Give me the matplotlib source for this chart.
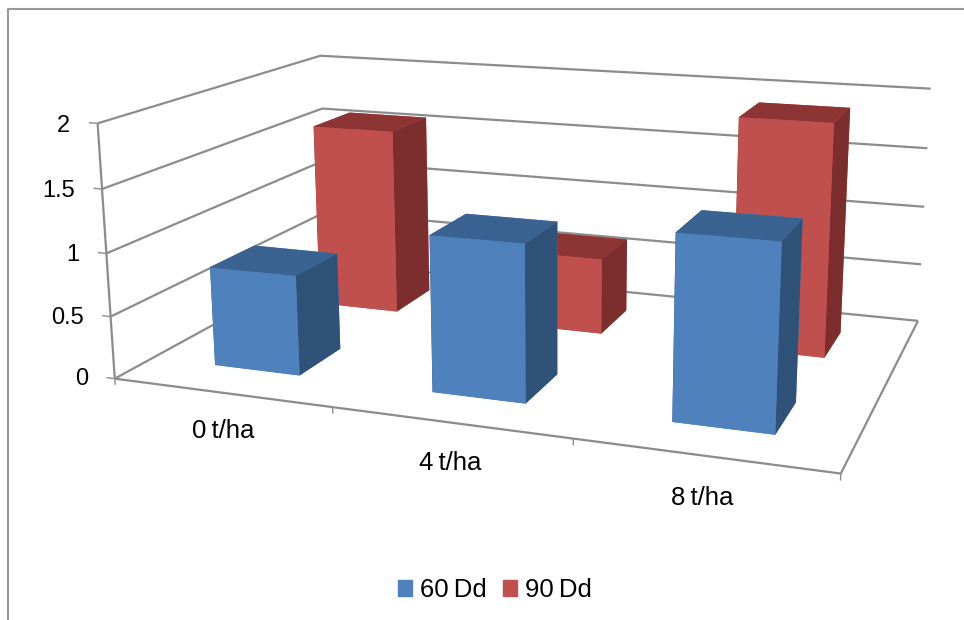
import matplotlib
matplotlib.use('Agg')
import matplotlib.pyplot as plt
from matplotlib.lines import Line2D
from matplotlib.patches import Patch
from mpl_toolkits.mplot3d import proj3d

plt.rcParams['font.family'] = ['Liberation Sans', 'DejaVu Sans']

categories = ['0\u2009t/ha', '4\u2009t/ha', '8\u2009t/ha']
series_names = ['60\u2009Dd', '90\u2009Dd']
values_60 = [0.8, 1.22, 1.4]
values_90 = [1.59, 0.64, 1.9]
z_ticks = [0, 0.5, 1, 1.5, 2]
z_tick_labels = ['0', '0.5', '1', '1.5', '2']

# front, top and side colours of each series
blue = ['#4F81BD', '#3B6391', '#305279']
red = ['#C0504D', '#8D3534', '#7B2E2D']
grid_color = '#8C8C8C'
border_color = '#999999'
bar_w = 0.4
bar_d = 0.39

fig = plt.figure(figsize=(9.64, 6.2), dpi=100)
ax = fig.add_subplot(projection='3d', computed_zorder=False)
ax.set_xlim(0, 3)
ax.set_ylim(0, 2)
ax.set_zlim(0, 2)
ax.set_xticks([])
ax.set_yticks([])
ax.set_zticks([])
ax.set_axis_off()
ax.patch.set_alpha(0)
ax.view_init(elev=14.248, azim=-69.747, roll=0.172)
ax.set_proj_type('persp', focal_length=0.373)
ax.set_box_aspect((2.804, 1.796, 1))
ax.set_position([101.3 / 964, -43.7 / 620, 846.7 / 964, 846.7 / 620])


def grid(xs, ys, zs, lw=1.6):
    ax.plot(xs, ys, zs, color=grid_color, lw=lw, zorder=1, solid_capstyle='butt', clip_on=False)


def label(x, y, z, s, **kw):
    # flat text at the projected spot of a 3d point
    u, v, _ = proj3d.proj_transform(x, y, z, ax.get_proj())
    ax.text2D(u, v, s, transform=ax.transData, color='black', va='center', **kw)


# walls and floor
for z, tick in zip(z_ticks, z_tick_labels):
    grid([0, 0, 3], [0, 2, 2], [z, z, z])
    grid([-0.04, 0], [0, 0], [z, z], lw=1)
    label(-0.13, 0, z - 0.035, tick, ha='right', fontsize=17)
grid([0, 0], [0, 0], [0, 2])
grid([0, 3, 3], [0, 0, 2], [0, 0, 0])
for i in range(4):
    grid([i, i], [0, 0], [0, -0.05], lw=1)


def draw_bars(values, row, colors, order):
    for i, v in enumerate(values):
        # bottom, top, front, back, left, right
        faces = [colors[0], colors[1], colors[0], colors[0], colors[2], colors[2]]
        ax.bar3d(i + 0.5 - bar_w / 2, row + 0.5 - bar_d / 2, 0, bar_w, bar_d, v,
                 color=faces, shade=False, edgecolor='none', linewidth=0, zorder=order)


draw_bars(values_90, 1, red, 2)
draw_bars(values_60, 0, blue, 3)

for i, name in enumerate(categories):
    label(i + 0.5, 0, -0.31, name, ha='center', fontsize=18.5)

# chart area border, only the left and top edges are in view
fig.add_artist(Line2D([8 / 964, 8 / 964, 1], [0, 611 / 620, 611 / 620], color=border_color, lw=1.5))

handles = [Patch(color=blue[0]), Patch(color=red[0])]
fig.legend(handles, series_names, loc='center', bbox_to_anchor=(495 / 964, 30 / 620), ncol=2, frameon=False,
           fontsize=18.5, handlelength=0.54, handleheight=0.62, handletextpad=0.32, columnspacing=0.62)

fig.savefig('out.png', dpi=100)
